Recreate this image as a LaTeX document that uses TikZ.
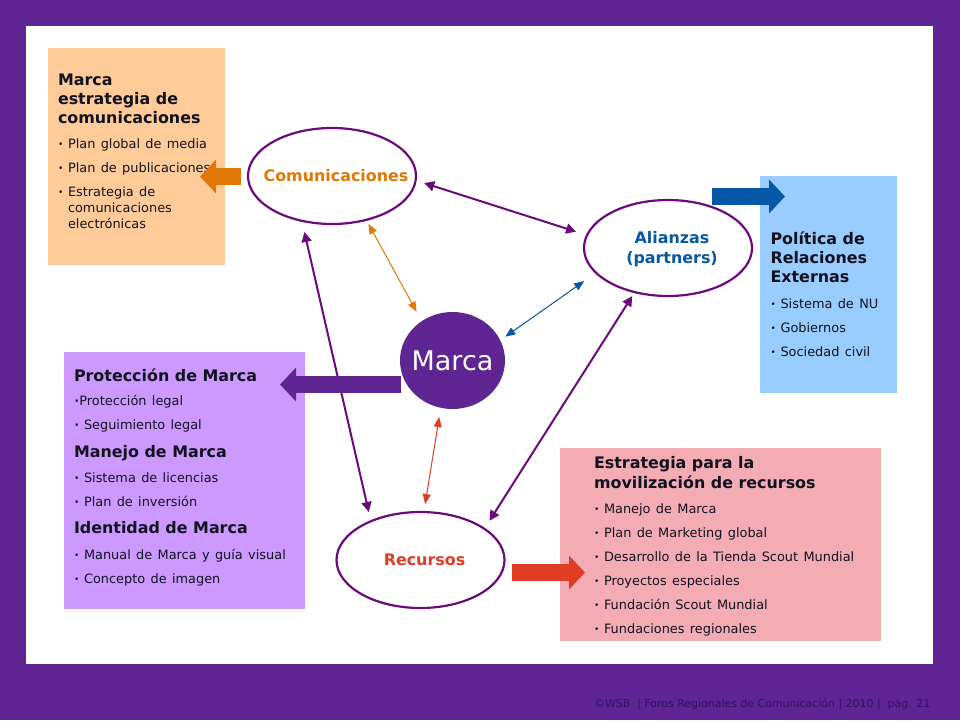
\documentclass[tikz,border=0pt]{standalone}
\usepackage{fontspec}
\setmainfont{DejaVu Sans}
\newfontfamily\itemfont[WordSpace=1.3]{DejaVu Sans}
\usetikzlibrary{arrows.meta,shapes.geometric}
\definecolor{frameP}{HTML}{5F2593}
\definecolor{lineP}{HTML}{6C0A7C}
\definecolor{orangeT}{HTML}{E07808}
\definecolor{blueT}{HTML}{0558A5}
\definecolor{redT}{HTML}{E03C26}
\definecolor{boxO}{HTML}{FFCC99}
\definecolor{boxB}{HTML}{99CCFF}
\definecolor{boxV}{HTML}{CC99FF}
\definecolor{boxR}{HTML}{F4ACB4}
\definecolor{footC}{HTML}{2A1560}
\definecolor{inkC}{HTML}{12121F}
% one line of text, its baseline #1 below the previous one
\newcommand{\rl}[2]{\vbox to #1pt{\vss\hbox{\smash{#2}}}}
\newcommand{\hd}[2]{\rl{#1}{\fontsize{15.9}{15}\selectfont\bfseries #2}}
\newcommand{\itm}[2]{\rl{#1}{\itemfont\fontsize{12.9}{15}\selectfont\makebox[10pt][l]{\fontsize{9}{9}\selectfont\raisebox{1pt}{•}}#2}}
\newcommand{\itc}[2]{\rl{#1}{\itemfont\fontsize{12.9}{15}\selectfont\makebox[10pt][l]{}#2}}
\newcommand{\blk}[1]{\vbox{\offinterlineskip #1}}
\tikzset{
  panel/.style={rectangle,draw=none,inner sep=0pt,outer sep=0pt,anchor=north west},
  words/.style={inner sep=0pt,outer sep=0pt,anchor=north west,text=inkC},
  hub/.style={ellipse,draw=lineP,line width=2.2pt,fill=white,minimum width=168pt,minimum height=96pt,inner sep=0pt,outer sep=0pt},
  hublabel/.style={font=\fontsize{15.9}{20}\selectfont\bfseries,align=center,xshift=4pt},
  bigline/.style={lineP,line width=2pt,{Triangle[length=10pt,width=10pt]}-{Triangle[length=10pt,width=10pt]}},
  thinline/.style={line width=1pt,{Triangle[length=10pt,width=8pt]}-{Triangle[length=10pt,width=8pt]}},
  block/.style={line width=17pt,-{Triangle[length=16pt,width=33pt]}}
}
\begin{document}
\begin{tikzpicture}[x=1pt,y=-1pt]
\useasboundingbox (0,0) rectangle (960,720);
\fill[frameP] (0,0) rectangle (960,720);
\fill[white] (26,26) rectangle (933,664);

% panels
\node[panel,fill=boxO,minimum width=177pt,minimum height=217pt] (pO) at (48,48) {};
\node[panel,fill=boxB,minimum width=137pt,minimum height=217pt] (pB) at (760,176) {};
\node[panel,fill=boxV,minimum width=241pt,minimum height=257pt] (pV) at (64,352) {};
\node[panel,fill=boxR,minimum width=321pt,minimum height=193pt] (pR) at (560,448) {};

% panel text
\node[words] (tO) at (58,70) {\blk{%
  \hd{15}{Marca}\hd{19}{estrategia de}\hd{19}{comunicaciones}%
  \itm{25}{Plan global de media}\itm{24}{Plan de publicaciones}\itm{24}{Estrategia de}%
  \itc{16}{comunicaciones}\itc{16}{electrónicas}}};
\node[words] (tB) at (770.5,229) {\blk{%
  \hd{15}{Política de}\hd{19}{Relaciones}\hd{19}{Externas}%
  \itm{26}{Sistema de NU}\itm{24}{Gobiernos}\itm{24}{Sociedad civil}}};
\node[words] (tV) at (74,366) {\blk{%
  \hd{15}{Protección de Marca}%
  \rl{24}{\itemfont\fontsize{9}{9}\selectfont\raisebox{1pt}{•}\fontsize{12.9}{15}\selectfont Protección legal}%
  \itm{24}{Seguimiento legal}\hd{28}{Manejo de Marca}%
  \itm{25}{Sistema de licencias}\itm{24}{Plan de inversión}\hd{27}{Identidad de Marca}%
  \itm{26}{Manual de Marca y guía visual}\itm{24}{Concepto de imagen}}};
\node[words] (tR) at (594,453) {\blk{%
  \hd{15}{Estrategia para la}\hd{20}{movilización de recursos}%
  \itm{25}{Manejo de Marca}\itm{24}{Plan de Marketing global}\itm{24}{Desarrollo de la Tienda Scout Mundial}%
  \itm{24}{Proyectos especiales}\itm{24}{Fundación Scout Mundial}\itm{24}{Fundaciones regionales}}};

% hubs
\node[hub,label={[hublabel,text=orangeT]center:Comunicaciones}] (com) at (332,176) {};
\node[hub,label={[hublabel,text=blueT,yshift=-1pt]center:Alianzas\\(partners)}] (ali) at (668,248) {};
\node[hub,label={[hublabel,text=redT]center:Recursos}] (rec) at (420.5,560) {};
\node[ellipse,fill=frameP,minimum width=105pt,minimum height=97pt,inner sep=0pt,outer sep=0pt,label={[text=white,font=\fontsize{27}{27}\selectfont]center:Marca}] (mar) at (452.5,360.5) {};

% connectors
\draw[bigline,shorten <=9pt,shorten >=11.5pt] (com.-3.6) -- (ali.171.2);
\draw[bigline,shorten <=11.5pt,shorten >=9.6pt] (com.-124.3) -- (rec.142.3);
\draw[bigline,shorten <=4.7pt,shorten >=9.6pt] (ali.-127.3) -- (rec.26.9);
\draw[thinline,orangeT,shorten <=4.6pt,shorten >=10.8pt] (com.-52.5) -- (mar.128.7);
\draw[thinline,blueT,shorten <=6.2pt,shorten >=14.5pt] (mar.23.9) -- (ali.-161.1);
\draw[thinline,redT,shorten <=9.4pt,shorten >=8.1pt] (mar.-104.15) -- (rec.86.9);

% block arrows
\coordinate (oa) at (241,176.5);
\coordinate (ob) at (200,176.5);
\coordinate (ba) at (712,196.5);
\coordinate (bb) at (785,196.5);
\coordinate (va) at (401,384.5);
\coordinate (vb) at (280,384.5);
\coordinate (ra) at (512,572.5);
\coordinate (rb) at (585,572.5);
\draw[block,orangeT] (oa) -- (ob);
\draw[block,blueT] (ba) -- (bb);
\draw[block,frameP] (va) -- (vb);
\draw[block,redT] (ra) -- (rb);

% footer
\node[anchor=base west,inner sep=0pt,text=footC,font=\fontsize{10.95}{12}\selectfont] (foot) at (594,707) {©WSB\ \ | Foros Regionales de Comunicación | 2010 |\ \ pág. 21};
\end{tikzpicture}
\end{document}
